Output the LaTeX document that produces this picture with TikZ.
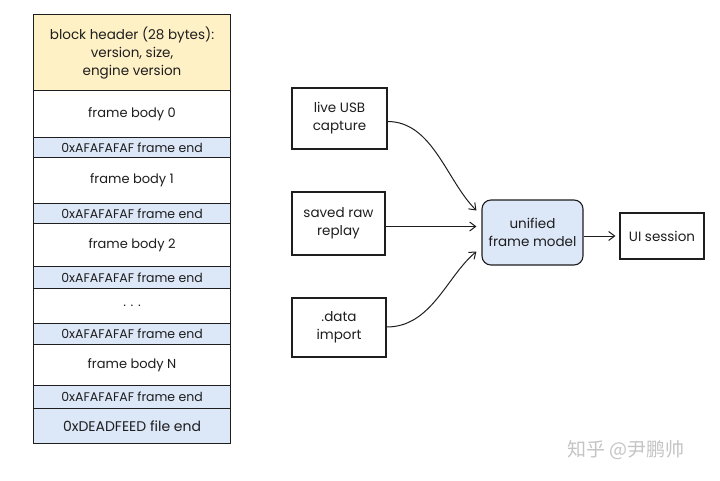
\documentclass[tikz,border=0pt]{standalone}
\usepackage{fontspec}
\setmainfont{Poppins}
\newfontfamily\cjkfont{Noto Sans CJK SC}
\usetikzlibrary{arrows.meta,calc}
\definecolor{ink}{HTML}{1E1E1E}
\definecolor{hdrfill}{HTML}{FFF1C6}
\definecolor{endfill}{HTML}{DCE7F8}
\definecolor{wmgray}{HTML}{C4C4C4}
\tikzset{
  cell/.style={draw=ink, line width=1.1pt, anchor=north west, minimum width=197pt, inner sep=0pt, font=\fontsize{13}{15}\selectfont, text=ink},
  bodycell/.style={cell, fill=white},
  endcell/.style={cell, fill=endfill, font=\fontsize{12.5}{14}\selectfont},
  srcbox/.style={draw=ink, line width=1.1pt, fill=white, inner sep=0pt, align=center, font=\fontsize{13.5}{18}\selectfont, text=ink},
  conn/.style={draw=ink, line width=1pt, -{Straight Barb[length=6pt,width=9pt]}},
}
\begin{document}
\begin{tikzpicture}[x=1pt,y=-1pt]
\useasboundingbox (0,0) rectangle (720,480);
% left stack
\node[cell, fill=hdrfill, minimum height=76pt, align=center, font=\fontsize{13.5}{18}\selectfont] (hdr) at (33,14) {block header (28 bytes):\\version, size,\\engine version};
\node[bodycell, minimum height=47pt] (b0) at (33,90) {frame body 0};
\node[endcell, minimum height=20pt] (e0) at (33,137) {0xAFAFAFAF frame end};
\node[bodycell, minimum height=46pt] (b1) at (33,157) {frame body 1};
\node[endcell, minimum height=20pt] (e1) at (33,203) {0xAFAFAFAF frame end};
\node[bodycell, minimum height=43pt] (b2) at (33,223) {frame body 2};
\node[endcell, minimum height=22pt] (e2) at (33,266) {0xAFAFAFAF frame end};
\node[bodycell, minimum height=35pt] (dots) at (33,288) {. . .};
\node[endcell, minimum height=21pt] (e3) at (33,323) {0xAFAFAFAF frame end};
\node[bodycell, minimum height=41pt] (bn) at (33,344) {frame body N};
\node[endcell, minimum height=23pt] (e4) at (33,385) {0xAFAFAFAF frame end};
\node[endcell, minimum height=35pt, font=\fontsize{14}{15}\selectfont] (fe) at (33,408) {0xDEADFEED file end};
% right flow
\node[srcbox, minimum width=95pt, minimum height=61pt] (usb) at (339.5,118.5) {live USB\\capture};
\node[srcbox, minimum width=93pt, minimum height=63pt] (raw) at (338.5,223.5) {saved raw\\replay};
\node[srcbox, minimum width=94pt, minimum height=59pt] (dat) at (339,327.5) {.data\\import};
\node[srcbox, fill=endfill, rounded corners=9pt, minimum width=101pt, minimum height=65pt] (uni) at (532.5,232.5) {unified\\frame model};
\node[srcbox, minimum width=84pt, minimum height=46pt] (ui) at (662,236) {UI session};
\coordinate (uin1) at ($(uni.west)+(-5,-22)$);
\coordinate (uin2) at ($(uni.west)+(-5,-6)$);
\coordinate (uin3) at ($(uni.west)+(-5,19)$);
\draw[conn] ($(usb.east)+(0,3)$) .. controls +(45,0) and +(-30,-30) .. (uin1);
\draw[conn] (raw.east|-uin2) -- (uin2);
\draw[conn] ($(dat.east)+(0,-0.5)$) .. controls +(45,0) and +(-30,25) .. (uin3);
\draw[conn] (uni.east|-ui.west) -- ([xshift=-4pt]ui.west);
% watermark
\node[text=wmgray, font=\cjkfont\fontsize{19}{21}\selectfont, anchor=west, inner sep=0pt] (wm) at (567,450) {知乎 @尹鹏帅};
\end{tikzpicture}
\end{document}
